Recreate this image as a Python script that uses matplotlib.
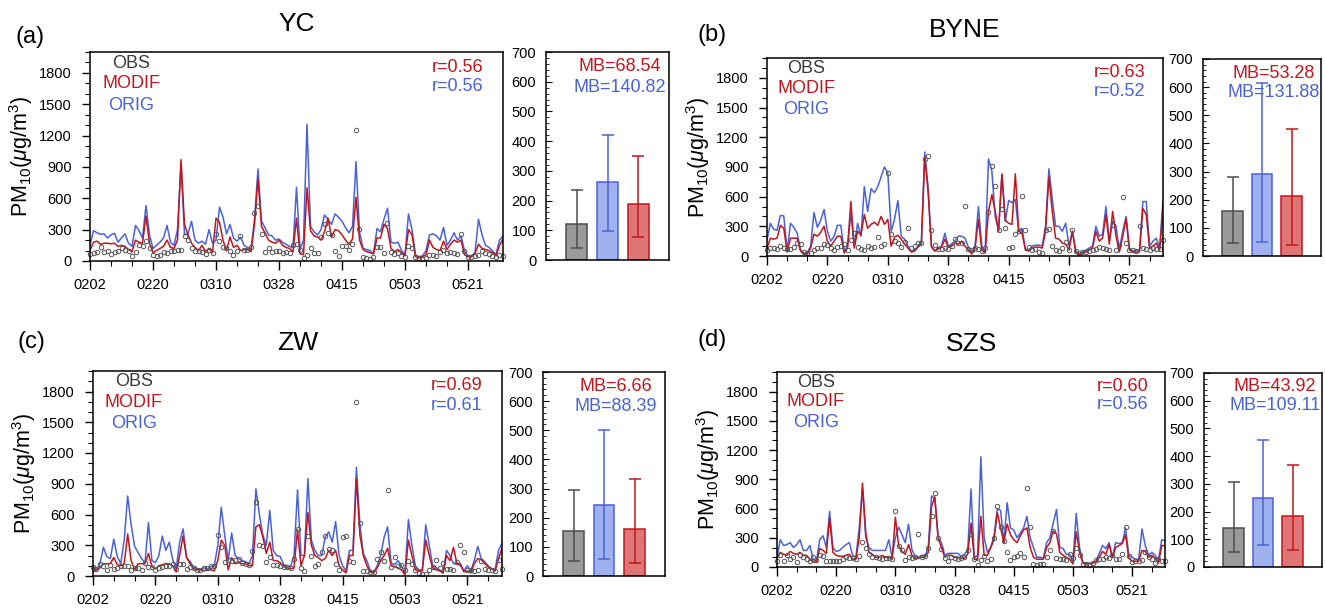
import numpy as np
import matplotlib
matplotlib.use("Agg")
import matplotlib.pyplot as plt
from matplotlib.ticker import MultipleLocator

plt.rcParams['font.family'] = ['Liberation Sans', 'DejaVu Sans']
plt.rcParams['mathtext.fontset'] = 'custom'
plt.rcParams['mathtext.rm'] = 'Liberation Sans'
plt.rcParams['mathtext.it'] = 'Liberation Sans:italic'

# daily PM10, 2 Feb - 31 May
xtick_pos = [0, 18, 36, 54, 72, 90, 108]
xtick_labels = ['0202', '0220', '0310', '0328', '0415', '0503', '0521']

yc_orig = [150, 290, 270, 255, 260, 220, 250, 265, 180, 220,
           260, 170, 140, 340, 290, 220, 530, 250, 120, 150,
           180, 220, 340, 180, 150, 300, 930, 250, 260, 380,
           200, 170, 190, 160, 300, 170, 200, 515, 420, 260,
           350, 220, 190, 230, 150, 130, 110, 400, 880, 380,
           320, 250, 240, 200, 210, 180, 160, 140, 130, 705,
           110, 200, 1310, 330, 280, 250, 300, 440, 400, 350,
           450, 420, 380, 320, 270, 330, 950, 280, 120, 110,
           100, 70, 310, 280, 400, 505, 180, 170, 180, 100,
           60, 450, 300, 60, 40, 50, 100, 250, 260, 240,
           200, 320, 150, 200, 270, 200, 240, 100, 50, 50,
           80, 400, 250, 150, 130, 100, 60, 200, 240]
yc_modif = [100, 180, 190, 160, 170, 170, 165, 170, 140, 150,
            140, 110, 90, 200, 180, 170, 430, 170, 80, 100,
            120, 140, 200, 130, 120, 200, 970, 350, 250, 170,
            130, 100, 150, 90, 120, 80, 410, 370, 200, 100,
            230, 130, 150, 100, 110, 110, 90, 350, 790, 330,
            270, 200, 180, 170, 200, 150, 130, 120, 90, 410,
            70, 60, 700, 290, 240, 230, 200, 280, 410, 230,
            300, 290, 250, 200, 160, 210, 610, 200, 110, 90,
            80, 70, 220, 220, 350, 310, 120, 90, 110, 80,
            50, 300, 250, 40, 30, 40, 60, 200, 130, 110,
            100, 190, 110, 160, 200, 180, 200, 60, 40, 40,
            70, 160, 120, 110, 100, 80, 50, 150, 210]
yc_obs = [70, 80, 90, 130, 90, 100, 70, 90, 100, 120,
          110, 100, 50, 90, 150, 140, 190, 120, 60, 50,
          60, 90, 80, 100, 100, 110, 110, 240, 200, 120,
          100, 100, 90, 70, 110, 80, 260, 190, 130, 120,
          100, 60, 100, 240, 110, 110, 130, 460, 530, 260,
          90, 120, 90, 100, 100, 80, 90, 80, 150, 160,
          110, 30, 60, 120, 80, 80, 230, 350, 270, 250,
          100, 50, 140, 140, 110, 160, 1250, 310, 40, 30,
          20, 40, 130, 130, 80, 360, 90, 70, 80, 50,
          40, 140, 120, 40, 30, 20, 30, 60, 60, 50,
          90, 110, 80, 90, 80, 70, 260, 100, 40, 40,
          50, 60, 100, 80, 70, 50, 40, 60, 50]

byne_orig = [160, 330, 270, 260, 410, 405, 50, 330, 290, 230,
             60, 30, 30, 100, 440, 290, 360, 470, 250, 150,
             200, 310, 310, 50, 100, 430, 100, 330, 200, 700,
             450, 680, 640, 700, 800, 900, 840, 250, 370, 560,
             200, 170, 100, 50, 60, 100, 150, 1050, 700, 100,
             50, 80, 100, 230, 100, 120, 150, 200, 200, 180,
             90, 40, 100, 500, 100, 40, 980, 860, 400, 260,
             820, 350, 560, 540, 570, 250, 280, 70, 60, 100,
             110, 110, 100, 300, 880, 580, 300, 300, 250, 330,
             100, 250, 50, 20, 40, 60, 80, 100, 300, 200,
             220, 500, 150, 350, 300, 60, 250, 400, 80, 50,
             60, 60, 550, 550, 100, 150, 180, 80, 570]
byne_modif = [80, 180, 170, 180, 310, 280, 40, 180, 180, 180,
              50, 20, 20, 80, 220, 200, 240, 300, 150, 100,
              150, 200, 200, 30, 80, 550, 80, 250, 210, 420,
              280, 320, 340, 310, 400, 320, 370, 100, 190, 210,
              170, 120, 80, 40, 50, 90, 120, 1000, 650, 90,
              50, 70, 90, 170, 90, 100, 130, 120, 150, 100,
              60, 20, 80, 370, 60, 30, 450, 620, 450, 250,
              830, 360, 330, 320, 830, 250, 230, 60, 50, 80,
              90, 90, 80, 250, 800, 450, 180, 170, 130, 120,
              60, 250, 40, 10, 30, 40, 60, 80, 250, 150,
              180, 420, 120, 450, 200, 40, 200, 380, 60, 40,
              40, 40, 480, 420, 80, 100, 130, 60, 480]
byne_obs = [60, 80, 80, 70, 100, 80, 70, 70, 90, 130,
            120, 40, 30, 30, 60, 80, 80, 120, 110, 80,
            60, 90, 100, 120, 60, 160, 230, 90, 70, 60,
            100, 80, 90, 190, 100, 120, 840, 220, 150, 130,
            90, 140, 280, 80, 100, 130, 130, 980, 1010, 260,
            110, 70, 70, 80, 70, 100, 170, 130, 130, 510,
            70, 60, 80, 70, 50, 80, 440, 910, 710, 260,
            470, 280, 80, 90, 220, 250, 610, 260, 90, 60,
            70, 40, 30, 260, 270, 100, 60, 50, 80, 140,
            60, 260, 50, 30, 40, 40, 50, 60, 70, 90,
            80, 70, 60, 310, 60, 110, 600, 130, 60, 60,
            50, 300, 80, 70, 60, 80, 70, 70, 160]

zw_orig = [100, 60, 120, 280, 190, 170, 360, 190, 120, 350,
           780, 500, 290, 230, 170, 130, 520, 150, 130, 200,
           390, 250, 330, 160, 70, 330, 460, 180, 140, 90,
           70, 60, 80, 70, 90, 100, 300, 670, 400, 150,
           420, 200, 170, 150, 140, 120, 200, 850, 600, 400,
           300, 640, 250, 200, 190, 110, 100, 90, 200, 840,
           200, 200, 950, 350, 250, 200, 200, 380, 430, 330,
           530, 200, 100, 50, 250, 250, 1060, 500, 220, 150,
           50, 40, 100, 200, 380, 480, 130, 110, 150, 100,
           20, 550, 300, 100, 60, 60, 500, 300, 100, 80,
           60, 30, 250, 200, 120, 120, 100, 50, 100, 50,
           150, 290, 170, 140, 100, 70, 60, 250, 320]
zw_modif = [40, 60, 80, 120, 120, 120, 180, 110, 100, 120,
            410, 150, 60, 120, 120, 120, 220, 90, 70, 100,
            110, 120, 120, 100, 40, 200, 390, 180, 120, 70,
            60, 60, 50, 60, 60, 50, 150, 350, 300, 60,
            180, 120, 130, 120, 120, 100, 100, 480, 500, 380,
            220, 330, 150, 150, 130, 90, 80, 70, 80, 450,
            100, 200, 620, 300, 200, 180, 150, 170, 250, 200,
            250, 100, 60, 30, 200, 200, 950, 400, 200, 100,
            40, 30, 80, 150, 200, 270, 100, 90, 80, 60,
            10, 350, 200, 60, 50, 50, 350, 200, 80, 60,
            50, 30, 200, 150, 280, 120, 120, 40, 50, 30,
            120, 170, 160, 120, 90, 70, 50, 170, 270]
zw_obs = [90, 70, 120, 100, 60, 110, 70, 80, 100, 100,
          100, 60, 80, 80, 60, 130, 90, 90, 60, 80,
          90, 100, 100, 120, 70, 120, 120, 70, 90, 80,
          60, 60, 80, 80, 100, 100, 400, 280, 140, 160,
          150, 160, 170, 130, 120, 110, 240, 720, 300, 290,
          140, 190, 110, 110, 100, 90, 90, 80, 170, 460,
          80, 50, 390, 200, 100, 120, 230, 390, 260, 250,
          120, 60, 380, 390, 150, 140, 1700, 520, 50, 50,
          40, 40, 170, 230, 150, 840, 90, 190, 100, 110,
          60, 150, 120, 60, 30, 20, 20, 60, 90, 160,
          80, 130, 70, 70, 60, 140, 300, 230, 60, 60,
          50, 60, 150, 70, 60, 60, 50, 160, 70]

szs_orig = [100, 280, 220, 230, 250, 200, 230, 280, 170, 170,
            220, 80, 60, 280, 320, 200, 570, 200, 160, 170,
            200, 230, 250, 120, 100, 400, 800, 300, 200, 170,
            170, 170, 170, 170, 280, 100, 300, 410, 330, 250,
            440, 180, 110, 100, 120, 110, 200, 730, 700, 300,
            250, 120, 140, 140, 140, 140, 110, 130, 170, 800,
            100, 120, 1130, 300, 150, 200, 320, 600, 580, 250,
            660, 400, 380, 300, 350, 400, 520, 300, 200, 100,
            100, 90, 250, 300, 450, 590, 200, 190, 130, 130,
            50, 550, 200, 50, 40, 40, 40, 60, 140, 220,
            190, 250, 100, 250, 240, 250, 400, 120, 100, 80,
            80, 390, 220, 120, 150, 120, 60, 280, 270]
szs_modif = [80, 150, 130, 120, 160, 140, 130, 150, 120, 120,
             80, 50, 50, 190, 170, 140, 500, 150, 120, 110,
             110, 120, 130, 80, 80, 300, 860, 350, 150, 130,
             100, 100, 120, 100, 100, 80, 510, 220, 160, 130,
             230, 120, 90, 90, 100, 100, 150, 620, 720, 300,
             200, 100, 120, 120, 100, 100, 90, 90, 130, 450,
             80, 70, 520, 120, 120, 200, 280, 560, 400, 250,
             440, 330, 280, 250, 320, 380, 400, 200, 100, 80,
             80, 80, 200, 250, 370, 340, 150, 120, 100, 80,
             30, 360, 150, 40, 30, 30, 40, 50, 100, 160,
             130, 230, 100, 200, 220, 240, 330, 90, 60, 60,
             60, 170, 160, 100, 120, 90, 40, 220, 220]
szs_obs = [60, 120, 60, 120, 80, 100, 50, 120, 100, 80,
           60, 100, 70, 120, 110, 60, 60, 60, 60, 60,
           80, 100, 90, 90, 80, 110, 260, 200, 130, 100,
           100, 90, 80, 90, 90, 80, 570, 220, 170, 70,
           100, 90, 100, 340, 100, 110, 200, 520, 760, 300,
           180, 90, 60, 100, 90, 80, 90, 100, 170, 340,
           80, 20, 70, 110, 60, 80, 300, 630, 410, 270,
           150, 70, 100, 110, 140, 100, 810, 410, 30, 20,
           30, 30, 100, 170, 370, 90, 80, 80, 70, 130,
           90, 190, 120, 30, 30, 20, 40, 70, 80, 80,
           100, 90, 120, 80, 80, 130, 410, 110, 50, 60,
           60, 70, 150, 100, 80, 40, 80, 60, 60]

# bar panels: order OBS, ORIG, MODIF
yc_bar = [121, 262, 190]
yc_bar_lo = [41, 99, 76]
yc_bar_hi = [234, 420, 349]
byne_bar = [159, 290, 212]
byne_bar_lo = [46, 51, 39]
byne_bar_hi = [281, 616, 451]
zw_bar = [155, 243, 160]
zw_bar_lo = [52, 57, 45]
zw_bar_hi = [294, 500, 333]
szs_bar = [141, 250, 185]
szs_bar_lo = [54, 79, 60]
szs_bar_hi = [308, 457, 369]

r_modif = ['0.56', '0.63', '0.69', '0.60']
r_orig = ['0.56', '0.52', '0.61', '0.56']
mb_modif = ['68.54', '53.28', '6.66', '43.92']
mb_orig = ['140.82', '131.88', '88.39', '109.11']
sites = ['YC', 'BYNE', 'ZW', 'SZS']
letters = ['(a)', '(b)', '(c)', '(d)']

RED = '#c0161e'
BLUE = '#4a62d8'
GRAY = '#4d4d4d'

W, H = 1325, 610
fig = plt.figure(figsize=(W / 100, H / 100), dpi=100)


def rect(l, t, r, b):
    return [l / W, 1 - b / H, (r - l) / W, (b - t) / H]


ts_boxes = [(90, 52, 503, 261), (767, 58, 1163, 256),
            (93, 371, 502, 576), (777, 372, 1165, 567)]
bar_boxes = [(546, 52, 669, 260), (1203, 59, 1321, 256),
             (543, 372, 665, 576), (1204, 373, 1322, 567)]
letter_pos = [(30, 37), (712, 35), (31, 342), (712, 340)]

series = [(yc_obs, yc_modif, yc_orig), (byne_obs, byne_modif, byne_orig),
          (zw_obs, zw_modif, zw_orig), (szs_obs, szs_modif, szs_orig)]
bars = [(yc_bar, yc_bar_lo, yc_bar_hi), (byne_bar, byne_bar_lo, byne_bar_hi),
        (zw_bar, zw_bar_lo, zw_bar_hi), (szs_bar, szs_bar_lo, szs_bar_hi)]

for i in range(4):
    obs, modif, orig = series[i]
    ax = fig.add_axes(rect(*ts_boxes[i]))
    ax.plot(np.arange(len(orig)), orig, color=BLUE, lw=1.1)
    ax.plot(np.arange(len(modif)), modif, color=RED, lw=1.1)
    ax.plot(np.arange(len(obs)), obs, 'o', mfc='none', mec='#555555',
            ms=3.2, mew=0.7, clip_on=False)
    ax.set_xlim(0, 118)
    ax.set_ylim(0, 2000)
    ax.set_xticks(xtick_pos)
    ax.set_xticklabels(xtick_labels)
    ax.xaxis.set_minor_locator(MultipleLocator(6))
    ax.set_yticks(range(0, 1801, 300))
    ax.yaxis.set_minor_locator(MultipleLocator(100))
    ax.tick_params(which='major', direction='out', length=6.5, width=1,
                   labelsize=10.5, pad=6)
    ax.tick_params(axis='y', which='major', length=6, pad=7)
    ax.tick_params(which='minor', direction='out', length=3.5, width=0.8)
    for s in ax.spines.values():
        s.set_linewidth(1.1)
    ax.set_ylabel(r'PM$_{10}$($\mu$g/m$^3$)', fontsize=15.5, labelpad=3)

    ax.text(0.10, 0.947, 'OBS', color='#3a3a3a', fontsize=13,
            ha='center', va='center', transform=ax.transAxes)
    ax.text(0.10, 0.847, 'MODIF', color=RED, fontsize=13,
            ha='center', va='center', transform=ax.transAxes)
    ax.text(0.10, 0.742, 'ORIG', color=BLUE, fontsize=13,
            ha='center', va='center', transform=ax.transAxes)
    ax.text(0.89, 0.928, 'r=' + r_modif[i], color=RED, fontsize=13,
            ha='center', va='center', transform=ax.transAxes)
    ax.text(0.89, 0.833, 'r=' + r_orig[i], color=BLUE, fontsize=13,
            ha='center', va='center', transform=ax.transAxes)

    l, t, r, b = ts_boxes[i]
    fig.text((l + r) / 2 / W, 1 - (t - 28) / H, sites[i], fontsize=19,
             ha='center', va='center')
    fig.text(letter_pos[i][0] / W, 1 - letter_pos[i][1] / H, letters[i],
             fontsize=17, ha='center', va='center')

    # bar panel
    mean, lo, hi = bars[i]
    bx = fig.add_axes(rect(*bar_boxes[i]))
    fills = ['#9a9a9a', '#a0b1f0', '#e07575']
    edges = [GRAY, BLUE, RED]
    for k in range(3):
        bx.bar(k + 1, mean[k], width=0.68, color=fills[k], edgecolor=edges[k],
               lw=1.1)
        bx.errorbar(k + 1, mean[k], yerr=[[mean[k] - lo[k]], [hi[k] - mean[k]]],
                    color=edges[k], capsize=4, elinewidth=1.1, capthick=1.1)
    bx.set_xlim(0, 4)
    bx.set_ylim(0, 700)
    bx.set_xticks([])
    bx.set_yticks(range(0, 701, 100))
    bx.yaxis.set_minor_locator(MultipleLocator(20))
    bx.tick_params(axis='y', which='major', direction='in', length=4.5,
                   labelsize=10.5, pad=7)
    bx.tick_params(axis='y', which='minor', direction='in', length=2.5)
    for s in bx.spines.values():
        s.set_linewidth(1.1)
    bx.text(0.6, 0.928, 'MB=' + mb_modif[i], color=RED, fontsize=13,
            ha='center', va='center', transform=bx.transAxes)
    bx.text(0.6, 0.83, 'MB=' + mb_orig[i], color=BLUE, fontsize=13,
            ha='center', va='center', transform=bx.transAxes)

fig.savefig('out.png', dpi=100)
